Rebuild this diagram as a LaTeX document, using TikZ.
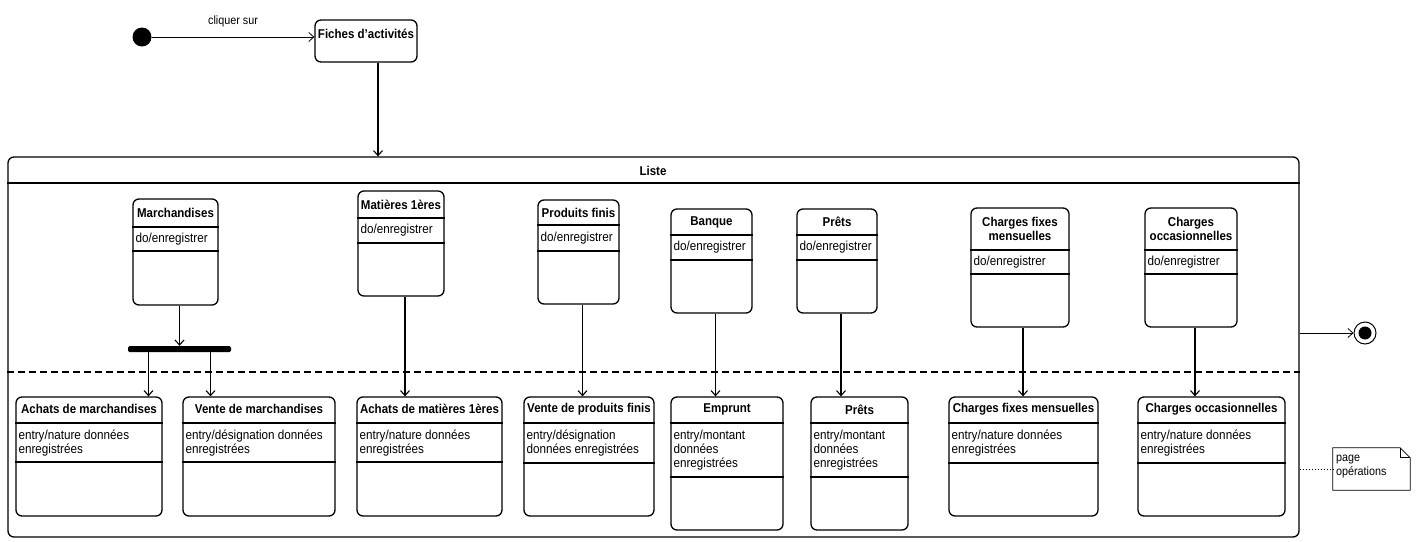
\documentclass[tikz,border=0pt]{standalone}
\usepackage{fontspec}
\setmainfont{Liberation Sans}[FakeStretch=0.9]
\usetikzlibrary{arrows.meta}

\tikzset{%
          etat/.style={
            draw,
            rounded corners=6pt,
            line width=1.3pt,
            inner sep=0pt
          },
          titre/.style={
            font=\fontsize{12.8}{14}\selectfont\bfseries,
            align=center,
            inner sep=0pt
          },
          action/.style={
            inner sep=0pt,
            anchor=west
          },
          texte/.style={
            align=left,
            inner sep=0pt,
            anchor=north west
          },
          separe/.style={line width=1.3pt},
          trans/.style={->, line width=1.1pt},
        }

\begin{document}
\begin{tikzpicture}[x=1pt, y=-1pt, >={Straight Barb[length=5pt,width=9pt]}, font=\fontsize{13}{14}\selectfont]
        \useasboundingbox (0,0) rectangle (1418,541);

        % start and "Fiches d'activites"
        \node [circle, fill, inner sep=0pt, minimum size=19pt] (init) at (142,37) {};
        \node [etat, minimum width=102pt, minimum height=42pt] (fiches) at (366,41) {};
        \node [titre] (fiches-titre) at (366,34) {Fiches d'activités};
        \path [draw, ->, line width=0.8pt] (init) -- node[above=6pt, font=\fontsize{12}{14}\selectfont] {cliquer sur} (init -| fiches.west);

        % composite state
        \node [etat, minimum width=1291pt, minimum height=380pt] (liste) at (653.5,347) {};
        \node [titre] (liste-titre) at (653,171) {Liste};
        \draw [separe] (liste.west |- 0,183) -- (liste.east |- 0,183);
        \draw [separe, dashed, dash pattern=on 7pt off 4pt] (liste.west |- 0,372) -- (liste.east |- 0,372);
        \path [draw, trans] ([xshift=12pt]fiches.south) -- ([xshift=12pt]fiches.south |- liste.north);

        % upper region
        \node [etat, minimum width=85pt, minimum height=106pt] (march) at (175.5,252) {};
        \node [titre] at (175.5,213) {Marchandises};
        \draw [separe] (march.west |- 0,227) -- (march.east |- 0,227);
        \draw [separe] (march.west |- 0,251) -- (march.east |- 0,251);
        \node [action] at ([xshift=3pt]march.west |- 0,239) {do/enregistrer};

        \node [etat, minimum width=86pt, minimum height=105pt] (matup) at (401,243.5) {};
        \node [titre] at (401,204.5) {Matières 1ères};
        \draw [separe] (matup.west |- 0,218) -- (matup.east |- 0,218);
        \draw [separe] (matup.west |- 0,243) -- (matup.east |- 0,243);
        \node [action] at ([xshift=3pt]matup.west |- 0,230.5) {do/enregistrer};

        \node [etat, minimum width=81pt, minimum height=104pt] (produp) at (578.5,252) {};
        \node [titre] at (578.5,212.5) {Produits finis};
        \draw [separe] (produp.west |- 0,225) -- (produp.east |- 0,225);
        \draw [separe] (produp.west |- 0,251) -- (produp.east |- 0,251);
        \node [action] at ([xshift=3pt]produp.west |- 0,238) {do/enregistrer};

        \node [etat, minimum width=81pt, minimum height=104pt] (banque) at (711.5,261) {};
        \node [titre] at (711.5,222) {Banque};
        \draw [separe] (banque.west |- 0,235) -- (banque.east |- 0,235);
        \draw [separe] (banque.west |- 0,260) -- (banque.east |- 0,260);
        \node [action] at ([xshift=3pt]banque.west |- 0,247.5) {do/enregistrer};

        \node [etat, minimum width=80pt, minimum height=104pt] (pretup) at (837,261) {};
        \node [titre] at (837,222) {Prêts};
        \draw [separe] (pretup.west |- 0,235) -- (pretup.east |- 0,235);
        \draw [separe] (pretup.west |- 0,260) -- (pretup.east |- 0,260);
        \node [action] at ([xshift=3pt]pretup.west |- 0,247.5) {do/enregistrer};

        \node [etat, minimum width=98pt, minimum height=119pt] (chfixup) at (1020,267.5) {};
        \node [titre] at (1020,229) {Charges fixes\\mensuelles};
        \draw [separe] (chfixup.west |- 0,250) -- (chfixup.east |- 0,250);
        \draw [separe] (chfixup.west |- 0,274) -- (chfixup.east |- 0,274);
        \node [action] at ([xshift=3pt]chfixup.west |- 0,262) {do/enregistrer};

        \node [etat, minimum width=92pt, minimum height=119pt] (choccup) at (1191,267.5) {};
        \node [titre] at (1191,229) {Charges\\occasionnelles};
        \draw [separe] (choccup.west |- 0,250) -- (choccup.east |- 0,250);
        \draw [separe] (choccup.west |- 0,274) -- (choccup.east |- 0,274);
        \node [action] at ([xshift=3pt]choccup.west |- 0,262) {do/enregistrer};

        \node [fill, rounded corners=1.5pt, inner sep=0pt, minimum width=103pt, minimum height=6pt] (fork) at (179.5,349) {};

        % lower region
        \node [etat, minimum width=146pt, minimum height=119pt] (achmarch) at (89,456.5) {};
        \node [titre] at ([yshift=-13pt]achmarch.north) {Achats de marchandises};
        \draw [separe] (achmarch.west |- 0,423) -- (achmarch.east |- 0,423);
        \draw [separe] (achmarch.west |- 0,462) -- (achmarch.east |- 0,462);
        \node [texte] at ([xshift=3pt]achmarch.west |- 0,430) {entry/nature données\\enregistrées};

        \node [etat, minimum width=152pt, minimum height=119pt] (ventmarch) at (259,456.5) {};
        \node [titre] at ([yshift=-13pt]ventmarch.north) {Vente de marchandises};
        \draw [separe] (ventmarch.west |- 0,423) -- (ventmarch.east |- 0,423);
        \draw [separe] (ventmarch.west |- 0,462) -- (ventmarch.east |- 0,462);
        \node [texte] at ([xshift=3pt]ventmarch.west |- 0,430) {entry/désignation données\\enregistrées};

        \node [etat, minimum width=145pt, minimum height=119pt] (achmat) at (429.5,456.5) {};
        \node [titre] at ([yshift=-13pt]achmat.north) {Achats de matières 1ères};
        \draw [separe] (achmat.west |- 0,423) -- (achmat.east |- 0,423);
        \draw [separe] (achmat.west |- 0,462) -- (achmat.east |- 0,462);
        \node [texte] at ([xshift=3pt]achmat.west |- 0,430) {entry/nature données\\enregistrées};

        \node [etat, minimum width=130pt, minimum height=119pt] (ventprod) at (589,456.5) {};
        \node [titre] at ([yshift=-13pt]ventprod.north) {Vente de produits finis};
        \draw [separe] (ventprod.west |- 0,423) -- (ventprod.east |- 0,423);
        \draw [separe] (ventprod.west |- 0,463) -- (ventprod.east |- 0,463);
        \node [texte] at ([xshift=3pt]ventprod.west |- 0,430) {entry/désignation\\données enregistrées};

        \node [etat, minimum width=112pt, minimum height=133pt] (emprunt) at (727,463.5) {};
        \node [titre] at ([yshift=-13pt]emprunt.north) {Emprunt};
        \draw [separe] (emprunt.west |- 0,423) -- (emprunt.east |- 0,423);
        \draw [separe] (emprunt.west |- 0,477) -- (emprunt.east |- 0,477);
        \node [texte] at ([xshift=3pt]emprunt.west |- 0,430) {entry/montant\\données\\enregistrées};

        \node [etat, minimum width=97pt, minimum height=133pt] (pretlow) at (859.5,463.5) {};
        \node [titre] at ([yshift=-13pt]pretlow.north) {Prêts};
        \draw [separe] (pretlow.west |- 0,423) -- (pretlow.east |- 0,423);
        \draw [separe] (pretlow.west |- 0,477) -- (pretlow.east |- 0,477);
        \node [texte] at ([xshift=3pt]pretlow.west |- 0,430) {entry/montant\\données\\enregistrées};

        \node [etat, minimum width=149pt, minimum height=119pt] (chfixlow) at (1023.5,456.5) {};
        \node [titre] at ([yshift=-13pt]chfixlow.north) {Charges fixes mensuelles};
        \draw [separe] (chfixlow.west |- 0,423) -- (chfixlow.east |- 0,423);
        \draw [separe] (chfixlow.west |- 0,463) -- (chfixlow.east |- 0,463);
        \node [texte] at ([xshift=3pt]chfixlow.west |- 0,430) {entry/nature données\\enregistrées};

        \node [etat, minimum width=147pt, minimum height=119pt] (chocclow) at (1211.5,456.5) {};
        \node [titre] at ([yshift=-13pt]chocclow.north) {Charges occasionnelles};
        \draw [separe] (chocclow.west |- 0,423) -- (chocclow.east |- 0,423);
        \draw [separe] (chocclow.west |- 0,463) -- (chocclow.east |- 0,463);
        \node [texte] at ([xshift=3pt]chocclow.west |- 0,430) {entry/nature données\\enregistrées};

        % transitions
        \path [draw, trans] (fork |- march.south) -- (fork.north);
        \path [draw, trans] ([xshift=-31pt]fork.south) -- ([xshift=-31pt]fork.south |- achmarch.north);
        \path [draw, trans] ([xshift=31pt]fork.south) -- ([xshift=31pt]fork.south |- ventmarch.north);
        \path [draw, trans] ([xshift=4pt]matup.south) -- ([xshift=4pt]matup.south |- achmat.north);
        \path [draw, trans] ([xshift=4pt]produp.south) -- ([xshift=4pt]produp.south |- ventprod.north);
        \path [draw, trans] ([xshift=4pt]banque.south) -- ([xshift=4pt]banque.south |- emprunt.north);
        \path [draw, trans] ([xshift=4pt]pretup.south) -- ([xshift=4pt]pretup.south |- pretlow.north);
        \path [draw, trans] ([xshift=3pt]chfixup.south) -- ([xshift=3pt]chfixup.south |- chfixlow.north);
        \path [draw, trans] ([xshift=4pt]choccup.south) -- ([xshift=4pt]choccup.south |- chocclow.north);

        % end state and note
        \node [circle, draw, line width=1pt, inner sep=0pt, minimum size=22pt] (final) at (1365,333) {};
        \node [circle, fill, inner sep=0pt, minimum size=13pt] (final-in) at (final) {};
        \path [draw, ->, line width=0.8pt] (liste.east |- final) -- (final);

        \node [inner sep=0pt, minimum width=77pt, minimum height=42pt] (note) at (1371.5,469) {};
        \draw [line width=0.8pt] (note.north west) -- ([xshift=-10pt]note.north east) -- ([yshift=-10pt]note.north east) -- (note.south east) -- (note.south west) -- cycle;
        \draw [line width=0.8pt] ([xshift=-10pt]note.north east) -- ([xshift=-10pt,yshift=-10pt]note.north east) -- ([yshift=-10pt]note.north east);
        \node [texte, font=\fontsize{12}{14}\selectfont] at ([xshift=3pt,yshift=-7pt]note.north west) {page\\opérations};
        \path [draw, dotted, line width=1pt] (liste.east |- note) -- (note);
\end{tikzpicture}
\end{document}
